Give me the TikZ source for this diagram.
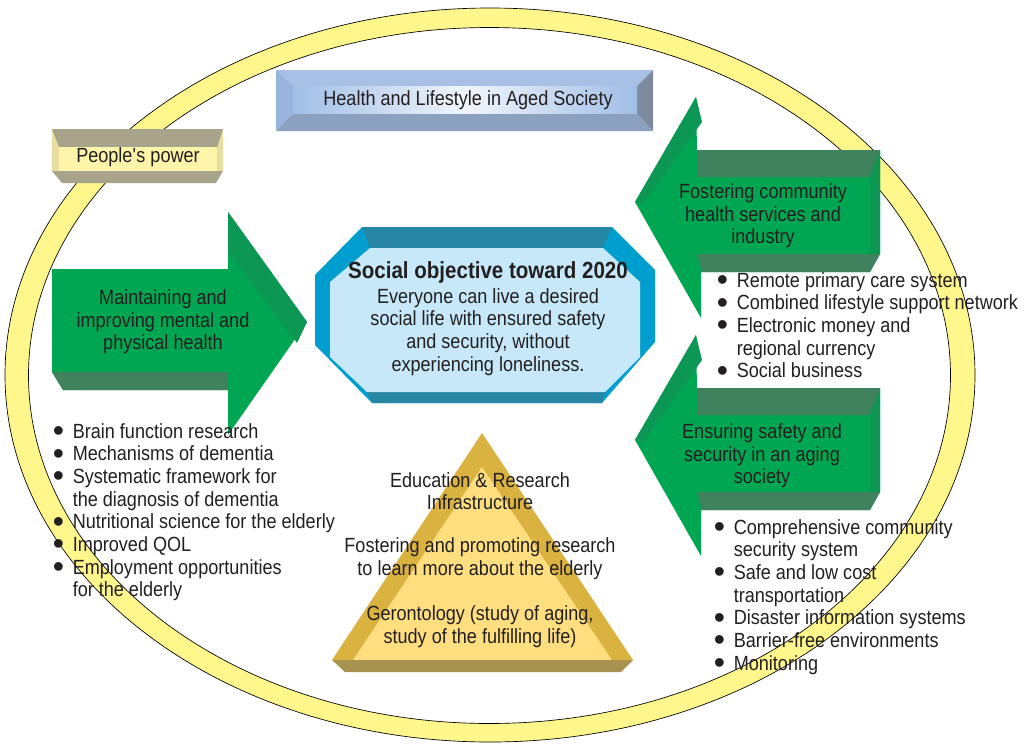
\documentclass[tikz,border=0pt]{standalone}
\usepackage{fontspec}
\setmainfont{Liberation Sans}[FakeStretch=0.88]
\newfontfamily\dotfont{Liberation Sans}
\definecolor{ink}{RGB}{35,31,32}
\definecolor{ring}{RGB}{255,246,140}
\definecolor{leaf}{RGB}{0,166,81}
\definecolor{leafdark}{RGB}{64,130,94}
\definecolor{leafside}{RGB}{12,152,84}
\definecolor{sky}{RGB}{198,232,248}
\definecolor{skyedge}{RGB}{0,158,206}
\definecolor{teal}{RGB}{38,134,164}
\definecolor{gold}{RGB}{218,178,64}
\definecolor{goldlight}{RGB}{255,222,128}
\definecolor{goldbase}{RGB}{168,146,80}
\definecolor{sand}{RGB}{255,245,170}
\definecolor{sandside}{RGB}{232,222,160}
\definecolor{sanddark}{RGB}{168,164,140}
\definecolor{steeltop}{RGB}{168,192,228}
\definecolor{steelleft}{RGB}{150,180,222}
\definecolor{steelbot}{RGB}{140,160,192}
\definecolor{steelright}{RGB}{126,138,160}
\definecolor{steelface}{RGB}{160,190,230}
\newcommand{\itm}{\makebox[15pt][l]{\smash{\raisebox{-2.4pt}{\dotfont\fontsize{24}{17}\selectfont\textbullet}}}}
\newcommand{\ind}{\hspace*{15pt}}
\begin{document}
\begin{tikzpicture}[x=0.75pt,y=-0.75pt,txt/.style={text=ink,align=center,inner sep=0pt,font=\fontsize{15.4}{17}\selectfont},lst/.style={txt,align=left,anchor=north west}]
\useasboundingbox (0,0) rectangle (1028,743);
% ring
\fill[ring,even odd rule] (490,375) ellipse [x radius=363.75pt,y radius=275.25pt] (489.5,375.5) ellipse [x radius=345.75pt,y radius=261pt];
\draw[line width=0.5pt] (490,375) ellipse [x radius=363.75pt,y radius=275.25pt] (489.5,375.5) ellipse [x radius=345.75pt,y radius=261pt];
% people's power box
\fill[sandside] (52,129) rectangle (223,171);
\fill[sanddark] (52,129) -- (223,129) -- (217,147) -- (59,147) -- cycle;
\fill[sanddark] (52,171) -- (223,171) -- (216,183) -- (62,183) -- cycle;
\fill[sand] (59,147) rectangle (217,171);
% title box
\fill[steeltop] (276,70) -- (653,70) -- (637,86) -- (293,86) -- cycle;
\fill[steelbot] (293,113) -- (637,113) -- (653,131) -- (276,131) -- cycle;
\fill[steelleft] (276,70) -- (293,86) -- (293,113) -- (276,131) -- cycle;
\fill[steelright] (653,70) -- (653,131) -- (637,113) -- (637,86) -- cycle;
\shade[left color=steelface,right color=steelface,middle color=white!85!steelface] (293,86) rectangle (637,113);
% octagon
\fill[skyedge] (362,227) -- (612,227) -- (655,270) -- (655,342) -- (602,403) -- (372,403) -- (315,345) -- (315,275) -- cycle;
\fill[teal] (362,227) -- (612,227) -- (603,248) -- (370,248) -- cycle;
\fill[teal] (367,392) -- (605,392) -- (602,403) -- (372,403) -- cycle;
\fill[sky] (370,248) -- (603,248) -- (640,282) -- (640,357) -- (605,392) -- (367,392) -- (330,357) -- (330,282) -- cycle;
% left arrow
\fill[leaf] (52,269) -- (228,269) -- (228,212) -- (307,322) -- (228,435) -- (228,390) -- (63,390) -- (52,372) -- cycle;
\fill[leafdark] (52,372) -- (228,372) -- (228,390) -- (63,390) -- cycle;
\fill[leafside] (228,212) -- (307,322) -- (297,343) -- (228,252) -- cycle;
% right arrows
\foreach \dy in {0,238}{
\begin{scope}[shift={(0,\dy)}]
\fill[leaf] (880,150) -- (697,150) -- (696,97) -- (635,202) -- (701,318) -- (701,272) -- (870,272) -- (880,254) -- cycle;
\fill[leafdark] (697,150) -- (880,150) -- (870,177) -- (697,177) -- cycle;
\fill[leafdark] (697,254) -- (880,254) -- (870,272) -- (702,272) -- cycle;
\fill[leafside] (870,177) -- (880,150) -- (880,254) -- (870,254) -- cycle;
\fill[leafside] (696,97) -- (635,202) -- (643,204) -- (702,122) -- cycle;
\end{scope}}
% pyramid
\fill[gold] (482,433) -- (633,660) -- (332,660) -- cycle;
\fill[goldlight] (482,467) -- (612,660) -- (353,660) -- cycle;
\fill[goldbase] (332,660) -- (633,660) -- (621,672) -- (345,672) -- cycle;
% texts
\node[txt] (people) at (138,157) {People\textquotesingle s power};
\node[txt] (title) at (468,100) {Health and Lifestyle in Aged Society};
\node[txt,font=\bfseries\fontsize{17.5}{20}\selectfont] (goalhead) at (488,272) {Social objective toward 2020};
\node[txt] (goal) at (488,332) {Everyone can live a desired\\social life with ensured safety\\and security, without\\experiencing loneliness.};
\node[txt] (health) at (163,322) {Maintaining and\\improving mental and\\physical health};
\node[txt] (community) at (763,216) {Fostering community\\health services and\\industry};
\node[txt] (safety) at (762,456) {Ensuring safety and\\security in an aging\\society};
\node[txt] (edu) at (480,491) {Education \& Research\\Infrastructure};
\node[txt] (research) at (480,559) {Fostering and promoting research\\to learn more about the elderly};
\node[txt] (geront) at (480,627) {Gerontology (study of aging,\\study of the fulfilling life)};
\node[lst] (healthlist) at (52.5,422) {\rule{0pt}{12pt}\itm Brain function research\\\itm Mechanisms of dementia\\\itm Systematic framework for\\\ind the diagnosis of dementia\\\itm Nutritional science for the elderly\\\itm Improved QOL\\\itm Employment opportunities\\\ind for the elderly};
\node[lst] (communitylist) at (716.5,271) {\rule{0pt}{12pt}\itm Remote primary care system\\\itm Combined lifestyle support network\\\itm Electronic money and\\\ind regional currency\\\itm Social business};
\node[lst] (safetylist) at (713.5,518) {\rule{0pt}{12pt}\itm Comprehensive community\\\ind security system\\\itm Safe and low cost\\\ind transportation\\\itm Disaster information systems\\\itm Barrier-free environments\\\itm Monitoring};
\end{tikzpicture}
\end{document}
